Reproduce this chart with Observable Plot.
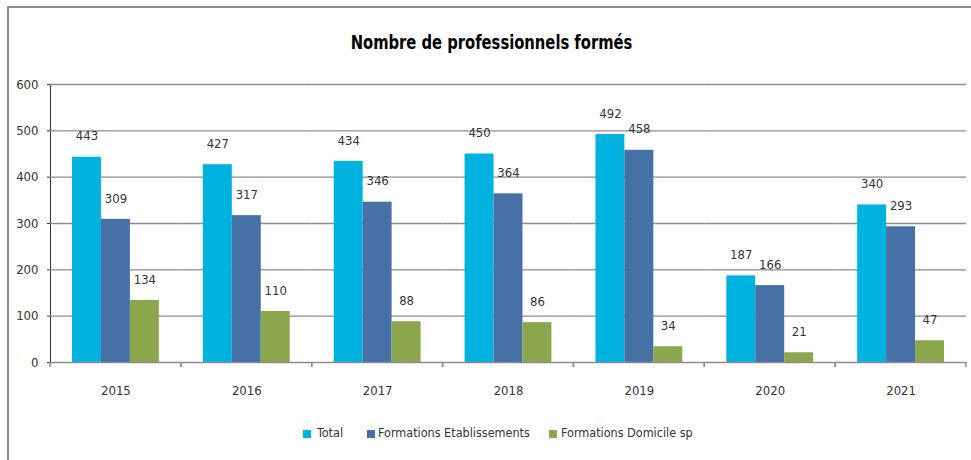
<!DOCTYPE html>
<html>
<head>
<meta charset="utf-8">
<script src="https://cdn.jsdelivr.net/npm/d3@7"></script>
<script src="https://cdn.jsdelivr.net/npm/@observablehq/plot@0.6"></script>
<style>
  html, body { margin: 0; padding: 0; background: #fff; }
  body { width: 971px; height: 460px; position: relative; overflow: hidden;
         font-family: "DejaVu Sans Condensed", "Liberation Sans Narrow", sans-serif; color: #333; }
  #frame { position: absolute; left: 7px; top: 6px; width: 964px; height: 454px;
           border-top: 2px solid #8c8c8c; border-left: 2px solid #8c8c8c; box-sizing: border-box; }
  #title { position: absolute; top: 30px; left: 6px; width: 971px; text-align: center;
           font-size: 20px; font-weight: bold; color: #000; transform: scaleX(0.82); transform-origin: center; }
  #chart { position: absolute; top: 70px; left: 0; }
  #legend { position: absolute; top: 0; left: 0; width: 971px; height: 460px; font-size: 12.5px; color: #333; }
  .sw { position: absolute; width: 8px; height: 8px; top: 430px; }
  .lt { position: absolute; top: 425px; white-space: nowrap; line-height: 16px; }
</style>
</head>
<body>
<div id="frame"></div>
<div id="title">Nombre de professionnels formés</div>
<div id="chart"></div>
<div id="legend"></div>
<script>
const years = ["2015", "2016", "2017", "2018", "2019", "2020", "2021"];
const series = ["Total", "Formations Etablissements", "Formations Domicile sp"];
const total = [443, 427, 434, 450, 492, 187, 340];
const etablissements = [309, 317, 346, 364, 458, 166, 293];
const domicile = [134, 110, 88, 86, 34, 21, 47];
const yTicks = [0, 100, 200, 300, 400, 500, 600];
const colors = ["#00b2e0", "#4571a7", "#8ba64d"];

const values = [total, etablissements, domicile];
const data = years.flatMap((year, i) =>
  series.map((s, k) => ({year, series: s, value: values[k][i]}))
);

const font = '"DejaVu Sans Condensed", "Liberation Sans Narrow", sans-serif';

function boundaryTicks(index, scales, vals, dim) {
  const g = d3.create("svg:g").attr("stroke", "#8c8c8c").attr("stroke-width", 1.5);
  const y0 = scales.y(0);
  const xs = [dim.marginLeft, dim.width - dim.marginRight];
  for (const x of xs) {
    g.append("line").attr("x1", x).attr("x2", x).attr("y1", y0).attr("y2", y0 + 5);
  }
  return g.node();
}

const chart = Plot.plot({
  width: 971,
  height: 332,
  marginLeft: 50,
  marginRight: 5,
  marginTop: 14,
  marginBottom: 40,
  style: {fontFamily: font, fontSize: "13px", color: "#333", background: "transparent", overflow: "visible"},
  fx: {domain: years, padding: 0, round: false, label: null, tickSize: 0, tickPadding: 23, axis: "bottom"},
  x: {domain: series, paddingInner: 0, paddingOuter: 0.76, round: false, axis: null},
  y: {domain: [0, 600], ticks: yTicks, tickSize: 3, tickPadding: 9, label: null, line: true},
  color: {domain: series, range: colors},
  marks: [
    Plot.ruleY(yTicks.slice(1), {stroke: "#8c8c8c", strokeWidth: 1.3}),
    Plot.barY(data, {fx: "year", x: "series", y: "value", fill: "series"}),
    Plot.text(data, {fx: "year", x: "series", y: "value", text: d => String(d.value), dy: -21, fill: "#333", fontSize: 13}),
    Plot.ruleY([0], {stroke: "#8c8c8c", strokeWidth: 1.5}),
    boundaryTicks
  ]
});
document.getElementById("chart").appendChild(chart);

// Legend
const legend = document.getElementById("legend");
const swLeft = [303, 367, 549];
const txtLeft = [317, 378, 561];
series.forEach((s, k) => {
  const sw = document.createElement("div");
  sw.className = "sw";
  sw.style.left = swLeft[k] + "px";
  sw.style.background = colors[k];
  const t = document.createElement("div");
  t.className = "lt";
  t.style.left = txtLeft[k] + "px";
  t.textContent = s;
  legend.appendChild(sw);
  legend.appendChild(t);
});
</script>
</body>
</html>
